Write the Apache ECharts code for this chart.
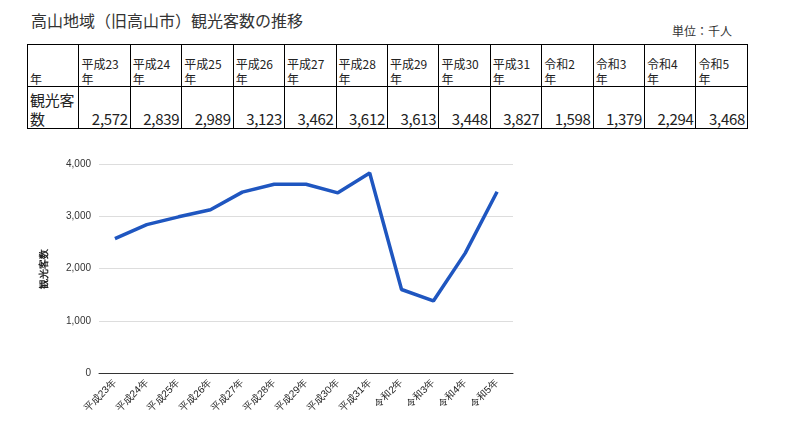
<!DOCTYPE html>
<html><head><meta charset="utf-8">
<script src="https://cdn.jsdelivr.net/npm/echarts@6/dist/echarts.min.js"></script>
<style>
body{margin:0;width:785px;height:425px;background:#fff;font-family:"Noto Sans CJK JP",sans-serif;position:relative;overflow:hidden}
#title{position:absolute;left:31px;top:8px;font-size:16px;color:#333}
#unit{position:absolute;left:672px;top:22px;font-size:12px;color:#333}
table{position:absolute;left:27px;top:44px;border-collapse:collapse;font-size:12px;color:#222;table-layout:fixed;width:721px}
td{border:1px solid #000;padding:0 2px;vertical-align:bottom;height:41px;line-height:15px;overflow:hidden}
tr.v td{font-size:15px;text-align:right;line-height:19px;letter-spacing:-0.3px}
tr.v td.h{text-align:left}
#chart{position:absolute;left:0;top:140px;width:785px;height:285px}
</style></head><body>
<div id="title">高山地域（旧高山市）観光客数の推移</div>
<div id="unit">単位：千人</div>
<table id="tbl"></table>
<div id="chart"></div>
<script>
const tableHeaders = ["平成23<br>年","平成24<br>年","平成25<br>年","平成26<br>年","平成27<br>年","平成28<br>年","平成29<br>年","平成30<br>年","平成31<br>年","令和2<br>年","令和3<br>年","令和4<br>年","令和5<br>年"];
const categories = ["平成23年","平成24年","平成25年","平成26年","平成27年","平成28年","平成29年","平成30年","平成31年","令和2年","令和3年","令和4年","令和5年"];
const visitors = [2572,2839,2989,3123,3462,3612,3613,3448,3827,1598,1379,2294,3468];

const fmt = v => v.toLocaleString('en-US');
document.getElementById('tbl').innerHTML =
  '<tr><td class="h">年</td>' + tableHeaders.map(h=>'<td>'+h+'</td>').join('') + '</tr>' +
  '<tr class="v"><td class="h">観光客<br>数</td>' + visitors.map(v=>'<td>'+fmt(v)+'</td>').join('') + '</tr>';

const chart = echarts.init(document.getElementById('chart'));
chart.setOption({
  animation:false,
  grid:{left:99,top:24,width:414,height:209},
  xAxis:{type:'category',data:categories,boundaryGap:true,
    axisLine:{lineStyle:{color:'#333'}},axisTick:{show:false},
    axisLabel:{rotate:45,fontSize:10,color:'#222',interval:0,margin:8}},
  yAxis:{type:'value',min:0,max:4000,interval:1000,name:'観光客数',nameLocation:'middle',nameGap:50,
    nameTextStyle:{fontSize:10,color:'#222',fontWeight:'bold'},
    axisLabel:{fontSize:10,color:'#333',formatter:v=>fmt(v)},
    splitLine:{lineStyle:{color:'#ddd'}},axisLine:{show:false}},
  series:[{type:'line',data:visitors,symbol:'none',lineStyle:{color:'#1f56c0',width:3.5}}]
});
</script></body></html>
